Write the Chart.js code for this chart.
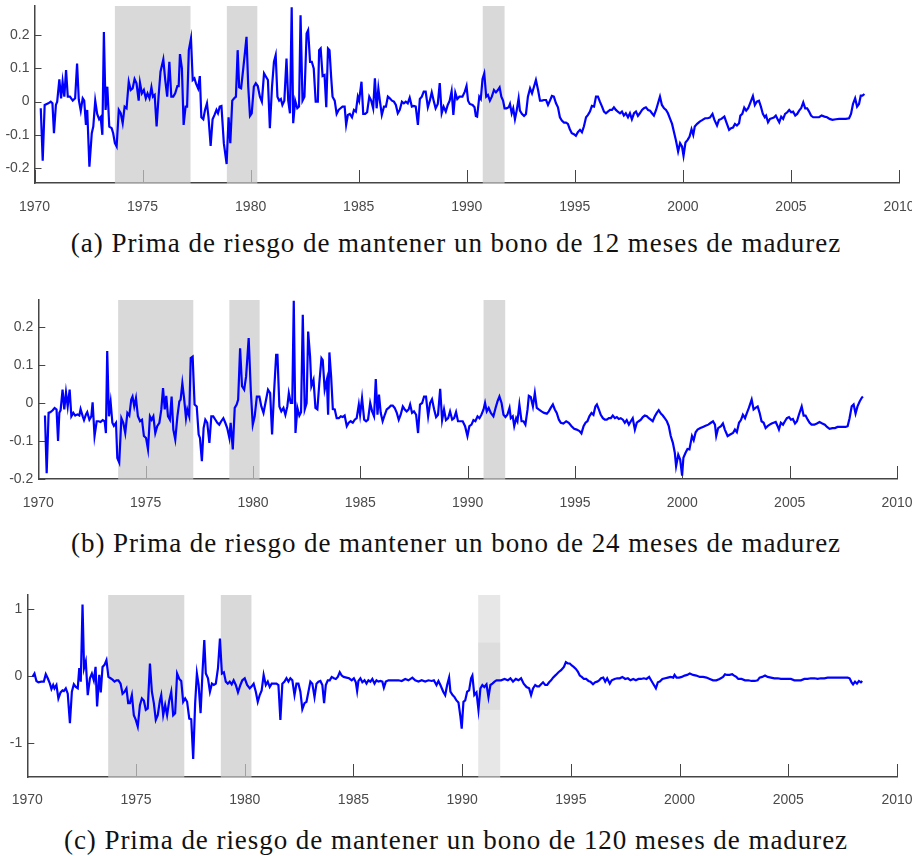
<!DOCTYPE html>
<html>
<head>
<meta charset="utf-8">
<script src="https://cdn.jsdelivr.net/npm/chart.js@4.4.1/dist/chart.umd.min.js"></script>
<style>
  body { margin: 0; background: #fff; width: 912px; height: 856px; position: relative; overflow: hidden; }
  canvas { position: absolute; left: 0; }
  .cap { position: absolute; left: 0; width: 912px; text-align: center; white-space: nowrap;
         font-family: "Liberation Serif", "DejaVu Serif", serif; font-size: 27px; line-height: 30px; color: #111; }
  .cap span { display: inline-block; }
</style>
</head>
<body>
<canvas id="chartA" width="912" height="220" style="top:0px"></canvas>
<div class="cap" style="top:228px"><span data-w="770">(a) Prima de riesgo de mantener un bono de 12 meses de madurez</span></div>
<canvas id="chartB" width="912" height="225" style="top:290px"></canvas>
<div class="cap" style="top:528px"><span data-w="770">(b) Prima de riesgo de mantener un bono de 24 meses de madurez</span></div>
<canvas id="chartC" width="912" height="225" style="top:585px"></canvas>
<div class="cap" style="top:825px"><span data-w="784">(c) Prima de riesgo de mantener un bono de 120 meses de madurez</span></div>
<script>
// años de las marcas del eje x y marcas del eje y
var yearTicks = [1970, 1975, 1980, 1985, 1990, 1995, 2000, 2005, 2010];
var premTicksShort = [-0.2, -0.1, 0, 0.1, 0.2];
var premTicksLong = [-1, 0, 1];

// periodos sombreados (inicio, fin)
var shadedPeriods = [[1973.72, 1977.22], [1978.90, 1980.31], [1990.74, 1991.75]];

// prima de riesgo, bono de 12 meses: [fecha, valor]
var prem12 = [
  [1970.29,-0.02],[1970.38,-0.178],[1970.47,-0.01],[1970.64,-0.005],[1970.75,0.0],[1970.83,-0.005],[1970.90,-0.095],[1970.99,-0.01],
  [1971.05,0.0],[1971.15,0.067],[1971.23,0.01],[1971.30,0.06],[1971.38,0.015],[1971.46,0.095],[1971.54,0.015],[1971.64,0.015],
  [1971.77,0.003],[1971.88,0.01],[1971.97,0.115],[1972.05,0.005],[1972.14,-0.027],[1972.23,0.01],[1972.30,0.003],[1972.38,-0.07],
  [1972.44,-0.025],[1972.54,-0.196],[1972.65,-0.095],[1972.72,-0.075],[1972.81,0.003],[1972.90,-0.037],[1972.99,-0.053],[1973.06,-0.047],
  [1973.14,-0.1],[1973.21,0.21],[1973.29,-0.025],[1973.37,0.045],[1973.46,-0.075],[1973.57,-0.08],[1973.64,-0.095],[1973.72,-0.125],
  [1973.80,-0.135],[1973.90,-0.025],[1973.99,-0.035],[1974.08,-0.065],[1974.17,-0.015],[1974.26,-0.02],[1974.36,0.06],[1974.45,0.035],
  [1974.54,0.04],[1974.63,0.068],[1974.72,0.055],[1974.82,0.003],[1974.88,0.057],[1974.97,0.025],[1975.06,0.035],[1975.15,0.01],
  [1975.23,0.025],[1975.32,0.01],[1975.41,0.043],[1975.48,0.015],[1975.56,0.02],[1975.65,-0.075],[1975.74,0.015],[1975.83,0.09],
  [1975.96,0.127],[1976.05,0.065],[1976.14,0.015],[1976.24,0.12],[1976.33,0.015],[1976.42,0.015],[1976.51,0.025],[1976.61,0.047],
  [1976.67,0.047],[1976.73,0.143],[1976.82,0.1],[1976.90,-0.07],[1976.99,-0.015],[1977.06,-0.015],[1977.14,0.155],[1977.24,0.19],
  [1977.32,0.065],[1977.40,0.07],[1977.47,0.055],[1977.57,0.04],[1977.65,0.077],[1977.72,-0.047],[1977.81,-0.053],[1977.89,-0.025],
  [1977.98,-0.005],[1978.05,-0.047],[1978.15,-0.133],[1978.24,-0.053],[1978.33,-0.04],[1978.42,-0.025],[1978.49,-0.035],[1978.57,-0.015],
  [1978.65,-0.013],[1978.76,-0.125],[1978.89,-0.188],[1978.98,-0.047],[1979.06,-0.125],[1979.15,0.003],[1979.24,0.01],[1979.32,0.015],
  [1979.40,0.155],[1979.47,0.043],[1979.56,0.04],[1979.66,0.1],[1979.74,0.15],[1979.81,0.195],[1979.89,0.045],[1979.97,-0.043],
  [1980.05,-0.035],[1980.15,0.045],[1980.24,0.055],[1980.33,0.047],[1980.43,0.015],[1980.52,0.0],[1980.62,0.085],[1980.71,0.075],
  [1980.80,0.065],[1980.89,-0.08],[1980.99,0.045],[1981.08,0.12],[1981.16,0.14],[1981.24,0.015],[1981.32,0.003],[1981.40,0.008],
  [1981.47,-0.01],[1981.56,0.003],[1981.66,0.13],[1981.74,0.003],[1981.82,-0.035],[1981.90,0.284],[1981.97,-0.065],[1982.06,0.003],
  [1982.16,-0.02],[1982.24,-0.015],[1982.31,0.26],[1982.40,0.003],[1982.49,0.015],[1982.59,0.205],[1982.66,0.215],[1982.75,0.12],
  [1982.83,0.12],[1982.92,0.1],[1983.01,0.0],[1983.11,0.0],[1983.17,0.155],[1983.24,0.16],[1983.33,0.077],[1983.42,0.08],
  [1983.50,-0.017],[1983.58,0.16],[1983.65,0.155],[1983.73,0.07],[1983.79,0.015],[1983.89,0.003],[1983.98,-0.037],[1984.07,-0.025],
  [1984.16,-0.02],[1984.25,-0.015],[1984.35,-0.015],[1984.42,-0.07],[1984.50,-0.04],[1984.59,-0.037],[1984.69,-0.047],[1984.78,-0.025],
  [1984.87,-0.03],[1984.96,0.015],[1985.02,0.003],[1985.13,0.06],[1985.21,-0.037],[1985.30,-0.037],[1985.39,-0.032],[1985.49,0.015],
  [1985.58,0.003],[1985.67,-0.02],[1985.75,0.07],[1985.83,-0.02],[1985.91,0.04],[1985.98,0.003],[1986.07,-0.04],[1986.17,-0.015],
  [1986.26,-0.015],[1986.35,0.015],[1986.44,0.01],[1986.54,0.003],[1986.63,0.0],[1986.72,-0.01],[1986.81,-0.035],[1986.90,-0.025],
  [1987.00,0.0],[1987.09,-0.005],[1987.18,0.0],[1987.27,-0.005],[1987.36,0.012],[1987.46,-0.015],[1987.55,-0.013],[1987.64,-0.015],
  [1987.74,-0.07],[1987.83,0.008],[1987.92,0.015],[1988.01,0.03],[1988.10,0.03],[1988.20,-0.017],[1988.29,0.003],[1988.38,0.028],
  [1988.47,0.003],[1988.56,-0.02],[1988.66,-0.007],[1988.75,0.056],[1988.84,-0.035],[1988.93,-0.015],[1989.03,-0.03],[1989.12,-0.01],
  [1989.21,0.003],[1989.30,0.032],[1989.38,-0.04],[1989.47,0.027],[1989.56,0.008],[1989.66,0.015],[1989.80,0.015],[1989.91,0.03],
  [1989.99,0.047],[1990.06,0.003],[1990.14,-0.007],[1990.27,-0.01],[1990.36,-0.017],[1990.42,-0.043],[1990.48,-0.045],[1990.58,0.015],
  [1990.65,0.008],[1990.73,0.068],[1990.81,0.085],[1990.90,0.015],[1990.98,0.02],[1991.07,0.003],[1991.16,0.015],[1991.26,0.035],
  [1991.35,0.028],[1991.44,0.035],[1991.52,0.043],[1991.60,0.015],[1991.68,0.003],[1991.75,-0.02],[1991.84,-0.02],[1991.94,-0.017],
  [1992.00,-0.007],[1992.08,-0.035],[1992.15,-0.02],[1992.23,-0.053],[1992.31,-0.027],[1992.40,0.01],[1992.46,-0.027],[1992.55,-0.037],
  [1992.65,-0.043],[1992.74,-0.037],[1992.83,0.015],[1992.93,0.04],[1993.02,0.025],[1993.11,0.045],[1993.20,0.065],[1993.30,0.035],
  [1993.39,0.003],[1993.48,0.003],[1993.57,0.005],[1993.67,0.005],[1993.76,-0.01],[1993.85,0.003],[1993.94,0.017],[1994.03,0.015],
  [1994.13,-0.005],[1994.22,-0.017],[1994.31,-0.047],[1994.40,-0.057],[1994.50,-0.063],[1994.59,-0.063],[1994.68,-0.067],[1994.77,-0.083],
  [1994.86,-0.095],[1994.96,-0.098],[1995.05,-0.103],[1995.14,-0.092],[1995.24,-0.085],[1995.33,-0.092],[1995.42,-0.075],[1995.52,-0.047],
  [1995.61,-0.04],[1995.70,-0.03],[1995.79,-0.013],[1995.89,-0.015],[1995.98,0.015],[1996.07,0.015],[1996.16,0.0],[1996.26,-0.015],
  [1996.35,-0.03],[1996.44,-0.035],[1996.53,-0.03],[1996.63,-0.025],[1996.72,-0.025],[1996.81,-0.017],[1996.90,-0.025],[1996.99,-0.03],
  [1997.09,-0.035],[1997.18,-0.03],[1997.27,-0.042],[1997.36,-0.035],[1997.46,-0.047],[1997.55,-0.035],[1997.64,-0.053],[1997.74,-0.035],
  [1997.83,-0.03],[1997.92,-0.043],[1998.01,-0.035],[1998.11,-0.025],[1998.20,-0.02],[1998.29,-0.017],[1998.39,-0.025],[1998.48,-0.027],
  [1998.57,-0.035],[1998.66,-0.042],[1998.76,-0.025],[1998.85,-0.005],[1998.94,0.015],[1999.03,-0.01],[1999.13,-0.02],[1999.22,-0.025],
  [1999.31,-0.035],[1999.41,-0.052],[1999.50,-0.067],[1999.59,-0.092],[1999.68,-0.117],[1999.78,-0.15],[1999.87,-0.125],[1999.96,-0.135],
  [2000.03,-0.163],[2000.12,-0.123],[2000.22,-0.115],[2000.31,-0.105],[2000.40,-0.083],[2000.48,-0.1],[2000.55,-0.075],[2000.66,-0.067],
  [2000.78,-0.06],[2000.91,-0.055],[2001.03,-0.05],[2001.15,-0.05],[2001.25,-0.048],[2001.37,-0.037],[2001.46,-0.055],[2001.58,-0.072],
  [2001.67,-0.055],[2001.78,-0.052],[2001.92,-0.045],[2002.01,-0.062],[2002.14,-0.085],[2002.23,-0.08],[2002.32,-0.078],[2002.41,-0.067],
  [2002.50,-0.072],[2002.60,-0.065],[2002.66,-0.042],[2002.75,-0.037],[2002.84,-0.018],[2002.93,-0.027],[2003.02,-0.02],[2003.11,-0.005],
  [2003.24,0.017],[2003.33,-0.01],[2003.42,0.0],[2003.52,0.003],[2003.61,-0.015],[2003.70,-0.037],[2003.79,-0.047],[2003.85,-0.042],
  [2003.94,-0.062],[2004.03,-0.052],[2004.12,-0.05],[2004.21,-0.048],[2004.30,-0.042],[2004.40,-0.055],[2004.46,-0.062],[2004.55,-0.045],
  [2004.64,-0.052],[2004.73,-0.037],[2004.83,-0.032],[2004.92,-0.025],[2005.01,-0.032],[2005.10,-0.03],[2005.20,-0.042],[2005.29,-0.037],
  [2005.38,-0.027],[2005.47,-0.02],[2005.57,-0.002],[2005.66,-0.02],[2005.75,-0.02],[2005.84,-0.03],[2005.93,-0.042],[2006.03,-0.047],
  [2006.15,-0.047],[2006.30,-0.047],[2006.42,-0.042],[2006.55,-0.045],[2006.67,-0.047],[2006.79,-0.052],[2006.92,-0.055],[2007.08,-0.053],
  [2007.23,-0.052],[2007.38,-0.052],[2007.54,-0.052],[2007.69,-0.05],[2007.78,-0.037],[2007.87,-0.007],[2007.97,0.01],[2008.06,-0.015],
  [2008.15,-0.007],[2008.23,0.018],[2008.31,0.018],[2008.40,0.023]
];

// prima de riesgo, bono de 24 meses
var prem24 = [
  [1970.31,-0.033],[1970.39,-0.185],[1970.48,-0.026],[1970.57,-0.024],[1970.67,-0.019],[1970.76,-0.013],[1970.85,-0.017],[1970.92,-0.1],
  [1970.98,-0.026],[1971.04,-0.019],[1971.13,0.035],[1971.21,-0.017],[1971.29,0.028],[1971.37,-0.009],[1971.46,0.035],[1971.54,-0.035],
  [1971.63,-0.026],[1971.72,-0.033],[1971.82,-0.03],[1971.91,-0.033],[1971.97,-0.016],[1972.07,-0.035],[1972.13,-0.045],[1972.22,-0.03],
  [1972.28,-0.024],[1972.38,-0.044],[1972.47,-0.035],[1972.53,0.002],[1972.62,-0.087],[1972.72,-0.048],[1972.81,-0.048],[1972.90,-0.05],
  [1973.00,-0.045],[1973.09,-0.048],[1973.15,-0.079],[1973.21,0.137],[1973.29,-0.035],[1973.37,0.002],[1973.45,-0.052],[1973.52,-0.06],
  [1973.62,-0.052],[1973.68,-0.145],[1973.77,-0.157],[1973.87,-0.04],[1973.96,-0.052],[1974.05,-0.079],[1974.15,-0.026],[1974.24,-0.033],
  [1974.33,0.009],[1974.39,0.017],[1974.47,-0.009],[1974.55,0.013],[1974.64,-0.035],[1974.74,-0.048],[1974.83,-0.044],[1974.92,-0.087],
  [1975.02,-0.092],[1975.11,-0.122],[1975.20,-0.035],[1975.28,-0.044],[1975.36,-0.035],[1975.45,-0.079],[1975.54,-0.061],[1975.64,-0.052],
  [1975.73,-0.017],[1975.81,0.039],[1975.89,-0.017],[1975.96,0.019],[1976.04,-0.035],[1976.13,-0.044],[1976.21,0.017],[1976.29,-0.07],
  [1976.38,-0.096],[1976.48,-0.035],[1976.57,0.004],[1976.63,0.009],[1976.71,0.052],[1976.79,0.013],[1976.88,-0.04],[1976.94,-0.017],
  [1977.03,-0.035],[1977.10,0.118],[1977.19,0.122],[1977.28,-0.004],[1977.38,-0.009],[1977.47,-0.083],[1977.53,-0.092],[1977.62,-0.153],
  [1977.70,-0.066],[1977.78,-0.044],[1977.87,-0.052],[1977.97,-0.105],[1978.06,-0.035],[1978.15,-0.035],[1978.25,-0.044],[1978.34,-0.052],
  [1978.43,-0.057],[1978.52,-0.048],[1978.62,-0.04],[1978.71,-0.052],[1978.80,-0.066],[1978.90,-0.092],[1978.96,-0.052],[1979.06,-0.122],
  [1979.15,-0.013],[1979.24,-0.004],[1979.31,0.009],[1979.40,0.144],[1979.49,0.044],[1979.59,0.035],[1979.68,0.07],[1979.80,0.171],
  [1979.90,0.031],[1979.99,-0.057],[1980.08,-0.035],[1980.18,0.017],[1980.30,0.017],[1980.39,-0.009],[1980.49,-0.026],[1980.58,0.0],
  [1980.70,0.035],[1980.80,0.026],[1980.89,-0.083],[1980.98,0.026],[1981.08,0.127],[1981.14,0.127],[1981.23,-0.009],[1981.32,-0.022],
  [1981.42,-0.013],[1981.51,-0.031],[1981.60,-0.009],[1981.67,0.026],[1981.76,0.0],[1981.83,0.0],[1981.90,0.269],[1981.98,-0.079],
  [1982.07,-0.013],[1982.16,-0.033],[1982.24,-0.024],[1982.32,0.232],[1982.41,-0.017],[1982.50,0.0],[1982.57,0.188],[1982.66,0.122],
  [1982.72,0.044],[1982.82,0.061],[1982.91,-0.013],[1983.00,-0.017],[1983.09,0.052],[1983.19,0.118],[1983.25,0.113],[1983.34,0.035],
  [1983.44,0.061],[1983.50,-0.031],[1983.56,0.133],[1983.64,0.07],[1983.72,-0.016],[1983.81,-0.017],[1983.90,-0.04],[1984.00,-0.04],
  [1984.09,-0.035],[1984.18,-0.037],[1984.27,-0.033],[1984.37,-0.061],[1984.46,-0.052],[1984.55,-0.048],[1984.65,-0.052],[1984.74,-0.044],
  [1984.83,-0.04],[1984.93,-0.004],[1984.99,-0.031],[1985.08,0.013],[1985.18,-0.044],[1985.27,-0.048],[1985.36,-0.044],[1985.46,0.0],
  [1985.55,-0.022],[1985.64,-0.035],[1985.72,0.063],[1985.80,-0.031],[1985.87,0.022],[1985.95,-0.026],[1986.04,-0.048],[1986.14,-0.031],
  [1986.23,-0.017],[1986.32,-0.013],[1986.42,-0.007],[1986.51,-0.007],[1986.60,-0.013],[1986.70,-0.026],[1986.79,-0.044],[1986.88,-0.031],
  [1986.98,-0.009],[1987.07,-0.017],[1987.16,-0.022],[1987.25,-0.017],[1987.32,-0.004],[1987.41,-0.026],[1987.50,-0.022],[1987.60,-0.031],
  [1987.69,-0.079],[1987.78,-0.004],[1987.88,0.0],[1987.97,0.017],[1988.06,0.017],[1988.16,-0.035],[1988.25,0.0],[1988.34,0.01],
  [1988.44,-0.017],[1988.53,-0.037],[1988.62,-0.031],[1988.72,0.037],[1988.81,-0.045],[1988.90,-0.017],[1988.99,-0.045],[1989.09,-0.04],
  [1989.18,-0.022],[1989.28,-0.044],[1989.37,-0.04],[1989.46,-0.024],[1989.55,-0.048],[1989.65,-0.048],[1989.77,-0.048],[1989.88,-0.061],
  [1989.99,-0.087],[1990.08,-0.061],[1990.18,-0.057],[1990.27,-0.045],[1990.36,-0.048],[1990.46,-0.035],[1990.55,-0.04],[1990.64,-0.031],
  [1990.74,-0.017],[1990.81,0.0],[1990.89,-0.022],[1990.98,-0.013],[1991.08,-0.026],[1991.20,-0.035],[1991.30,-0.013],[1991.39,0.004],
  [1991.48,0.017],[1991.58,0.0],[1991.67,-0.031],[1991.76,-0.037],[1991.85,-0.031],[1991.95,-0.013],[1992.01,-0.04],[1992.10,-0.035],
  [1992.17,-0.061],[1992.26,-0.04],[1992.32,-0.048],[1992.41,-0.004],[1992.51,-0.048],[1992.60,-0.048],[1992.69,-0.057],[1992.79,-0.017],
  [1992.85,0.019],[1992.94,0.016],[1993.04,-0.009],[1993.13,0.026],[1993.22,-0.013],[1993.31,-0.017],[1993.44,-0.022],[1993.56,-0.026],
  [1993.69,-0.028],[1993.78,-0.022],[1993.87,-0.013],[1993.97,-0.004],[1994.06,-0.017],[1994.15,-0.026],[1994.25,-0.044],[1994.34,-0.052],
  [1994.46,-0.054],[1994.59,-0.048],[1994.71,-0.052],[1994.84,-0.061],[1994.96,-0.068],[1995.08,-0.07],[1995.21,-0.074],[1995.30,-0.08],
  [1995.40,-0.061],[1995.49,-0.052],[1995.58,-0.048],[1995.67,-0.035],[1995.77,-0.026],[1995.86,-0.031],[1995.95,-0.009],[1996.02,-0.004],
  [1996.11,-0.017],[1996.20,-0.031],[1996.30,-0.04],[1996.39,-0.044],[1996.48,-0.044],[1996.58,-0.04],[1996.67,-0.04],[1996.76,-0.033],
  [1996.86,-0.04],[1996.95,-0.037],[1997.04,-0.042],[1997.13,-0.04],[1997.23,-0.044],[1997.32,-0.052],[1997.41,-0.045],[1997.51,-0.057],
  [1997.60,-0.048],[1997.69,-0.04],[1997.79,-0.07],[1997.88,-0.052],[1997.97,-0.048],[1998.07,-0.044],[1998.16,-0.037],[1998.25,-0.033],
  [1998.35,-0.035],[1998.44,-0.04],[1998.53,-0.044],[1998.62,-0.048],[1998.72,-0.035],[1998.81,-0.026],[1998.90,-0.019],[1999.00,-0.028],
  [1999.09,-0.033],[1999.18,-0.04],[1999.28,-0.048],[1999.37,-0.061],[1999.46,-0.087],[1999.56,-0.105],[1999.65,-0.131],[1999.71,-0.166],
  [1999.81,-0.136],[1999.90,-0.149],[1999.99,-0.191],[2000.05,-0.144],[2000.15,-0.131],[2000.24,-0.121],[2000.33,-0.122],[2000.45,-0.087],
  [2000.53,-0.098],[2000.62,-0.077],[2000.71,-0.07],[2000.84,-0.066],[2000.96,-0.063],[2001.08,-0.06],[2001.21,-0.057],[2001.33,-0.052],
  [2001.43,-0.048],[2001.52,-0.057],[2001.58,-0.087],[2001.67,-0.066],[2001.80,-0.061],[2001.89,-0.054],[2001.98,-0.07],[2002.11,-0.087],
  [2002.23,-0.083],[2002.36,-0.079],[2002.45,-0.07],[2002.54,-0.077],[2002.64,-0.052],[2002.73,-0.045],[2002.82,-0.031],[2002.92,-0.04],
  [2003.01,-0.026],[2003.10,-0.013],[2003.23,0.009],[2003.32,-0.017],[2003.41,-0.013],[2003.51,-0.009],[2003.60,-0.026],[2003.69,-0.048],
  [2003.79,-0.052],[2003.88,-0.066],[2003.97,-0.061],[2004.07,-0.057],[2004.16,-0.054],[2004.25,-0.052],[2004.35,-0.05],[2004.44,-0.061],
  [2004.50,-0.07],[2004.59,-0.052],[2004.69,-0.057],[2004.78,-0.048],[2004.87,-0.04],[2004.97,-0.037],[2005.06,-0.044],[2005.15,-0.042],
  [2005.25,-0.054],[2005.34,-0.048],[2005.43,-0.031],[2005.56,-0.009],[2005.65,-0.033],[2005.74,-0.033],[2005.84,-0.044],[2005.93,-0.052],
  [2006.02,-0.057],[2006.15,-0.057],[2006.27,-0.054],[2006.39,-0.05],[2006.52,-0.054],[2006.64,-0.057],[2006.74,-0.063],[2006.86,-0.068],
  [2006.99,-0.066],[2007.11,-0.066],[2007.23,-0.063],[2007.36,-0.063],[2007.48,-0.063],[2007.61,-0.063],[2007.70,-0.061],[2007.79,-0.04],
  [2007.89,-0.009],[2007.98,-0.004],[2008.07,-0.028],[2008.16,-0.009],[2008.26,0.004],[2008.35,0.013],[2008.41,0.017]
];

// prima de riesgo, bono de 120 meses
var prem120 = [
  [1970.24,-0.007],[1970.33,0.04],[1970.42,-0.07],[1970.51,-0.09],[1970.64,-0.08],[1970.76,-0.08],[1970.85,0.03],[1970.94,-0.03],
  [1971.04,-0.11],[1971.11,-0.19],[1971.19,-0.13],[1971.25,-0.18],[1971.34,-0.13],[1971.43,-0.33],[1971.53,-0.24],[1971.62,-0.21],
  [1971.68,-0.22],[1971.77,-0.18],[1971.86,-0.26],[1971.96,-0.70],[1972.05,-0.23],[1972.14,-0.12],[1972.23,-0.16],[1972.32,-0.18],
  [1972.39,0.12],[1972.46,-0.08],[1972.54,1.07],[1972.61,0.12],[1972.69,0.22],[1972.78,-0.28],[1972.88,-0.03],[1972.97,0.04],
  [1973.06,-0.06],[1973.14,0.14],[1973.21,-0.45],[1973.31,0.02],[1973.38,-0.24],[1973.46,0.14],[1973.55,0.17],[1973.64,0.24],
  [1973.73,-0.01],[1973.83,-0.03],[1973.92,-0.05],[1974.01,-0.08],[1974.10,-0.06],[1974.19,-0.06],[1974.29,-0.11],[1974.38,-0.26],
  [1974.47,-0.23],[1974.56,-0.18],[1974.64,-0.40],[1974.72,-0.40],[1974.81,-0.28],[1974.90,-0.58],[1974.99,-0.65],[1975.08,-0.75],
  [1975.18,-0.43],[1975.27,-0.33],[1975.36,-0.36],[1975.45,-0.50],[1975.54,-0.48],[1975.64,0.19],[1975.73,-0.23],[1975.82,-0.40],
  [1975.91,-0.65],[1976.00,-0.58],[1976.10,-0.36],[1976.16,-0.28],[1976.25,-0.58],[1976.34,-0.43],[1976.43,-0.58],[1976.53,-0.36],
  [1976.62,-0.23],[1976.71,-0.58],[1976.80,-0.55],[1976.89,0.04],[1976.99,-0.04],[1977.08,-0.07],[1977.17,-0.38],[1977.26,-0.33],
  [1977.35,-0.38],[1977.45,-0.63],[1977.54,-0.64],[1977.63,-1.23],[1977.72,-0.40],[1977.80,0.04],[1977.88,-0.13],[1977.97,-0.55],
  [1978.06,0.07],[1978.14,0.54],[1978.21,0.04],[1978.31,-0.03],[1978.40,-0.23],[1978.49,-0.11],[1978.58,-0.13],[1978.67,-0.11],
  [1978.77,0.12],[1978.86,0.56],[1978.95,0.04],[1979.04,0.06],[1979.13,-0.08],[1979.22,-0.11],[1979.31,-0.08],[1979.40,-0.12],
  [1979.49,-0.06],[1979.59,-0.13],[1979.69,-0.24],[1979.80,-0.13],[1979.89,-0.06],[1980.00,-0.03],[1980.11,-0.13],[1980.23,-0.18],
  [1980.32,-0.15],[1980.41,-0.11],[1980.51,-0.23],[1980.60,-0.38],[1980.69,-0.28],[1980.78,-0.21],[1980.87,0.02],[1980.97,-0.13],
  [1981.06,-0.08],[1981.15,-0.16],[1981.24,-0.11],[1981.35,-0.11],[1981.46,-0.11],[1981.55,-0.13],[1981.64,-0.65],[1981.73,-0.11],
  [1981.83,-0.08],[1981.92,-0.03],[1982.01,-0.08],[1982.10,-0.03],[1982.19,-0.06],[1982.29,-0.28],[1982.38,-0.11],[1982.47,-0.11],
  [1982.56,-0.23],[1982.65,-0.49],[1982.75,-0.40],[1982.84,-0.38],[1982.93,-0.23],[1983.02,-0.08],[1983.11,-0.11],[1983.21,-0.31],
  [1983.30,-0.11],[1983.39,-0.08],[1983.48,-0.07],[1983.57,-0.13],[1983.65,-0.40],[1983.73,-0.13],[1983.82,-0.06],[1983.91,-0.06],
  [1984.00,-0.01],[1984.10,-0.03],[1984.19,-0.04],[1984.28,-0.01],[1984.37,0.06],[1984.46,0.01],[1984.55,-0.01],[1984.68,-0.02],
  [1984.80,-0.03],[1984.92,-0.06],[1985.02,-0.03],[1985.11,-0.09],[1985.17,-0.22],[1985.23,-0.07],[1985.32,-0.03],[1985.41,-0.09],
  [1985.51,-0.06],[1985.60,-0.11],[1985.69,-0.06],[1985.78,-0.08],[1985.87,-0.04],[1985.97,-0.11],[1986.06,-0.06],[1986.15,-0.08],
  [1986.24,-0.07],[1986.33,-0.08],[1986.40,-0.17],[1986.49,-0.08],[1986.61,-0.06],[1986.76,-0.06],[1986.92,-0.06],[1987.07,-0.06],
  [1987.22,-0.07],[1987.38,-0.04],[1987.53,-0.06],[1987.71,-0.02],[1987.84,-0.06],[1987.99,-0.08],[1988.14,-0.06],[1988.30,-0.08],
  [1988.45,-0.06],[1988.60,-0.07],[1988.70,-0.06],[1988.82,-0.13],[1988.91,-0.07],[1989.00,-0.13],[1989.13,-0.23],[1989.22,-0.28],
  [1989.31,-0.13],[1989.40,-0.02],[1989.46,-0.23],[1989.56,-0.28],[1989.65,-0.31],[1989.74,-0.36],[1989.83,-0.39],[1989.92,-0.60],
  [1989.98,-0.78],[1990.06,-0.38],[1990.14,-0.36],[1990.23,-0.23],[1990.32,-0.21],[1990.41,-0.03],[1990.47,0.01],[1990.56,-0.28],
  [1990.66,-0.24],[1990.75,-0.50],[1990.84,-0.18],[1990.93,-0.13],[1991.02,-0.16],[1991.12,-0.12],[1991.21,-0.31],[1991.30,-0.13],
  [1991.39,-0.11],[1991.49,-0.08],[1991.58,-0.06],[1991.67,-0.06],[1991.79,-0.06],[1991.95,-0.04],[1992.10,-0.06],[1992.22,-0.03],
  [1992.34,-0.08],[1992.47,-0.04],[1992.59,-0.06],[1992.71,-0.03],[1992.83,-0.11],[1992.96,-0.16],[1993.08,-0.18],[1993.17,-0.28],
  [1993.26,-0.18],[1993.36,-0.13],[1993.45,-0.15],[1993.54,-0.15],[1993.63,-0.12],[1993.72,-0.09],[1993.82,-0.13],[1993.91,-0.13],
  [1994.00,-0.09],[1994.09,-0.06],[1994.18,-0.02],[1994.31,0.02],[1994.43,0.06],[1994.55,0.09],[1994.68,0.14],[1994.77,0.21],
  [1994.86,0.19],[1994.95,0.19],[1995.04,0.16],[1995.13,0.14],[1995.23,0.11],[1995.32,0.07],[1995.41,0.01],[1995.50,-0.01],
  [1995.60,-0.04],[1995.70,-0.04],[1995.81,-0.07],[1995.90,-0.08],[1996.02,-0.12],[1996.12,-0.09],[1996.21,-0.08],[1996.30,-0.06],
  [1996.39,-0.03],[1996.49,-0.02],[1996.58,-0.08],[1996.67,-0.03],[1996.79,-0.11],[1996.88,-0.06],[1997.01,-0.04],[1997.13,-0.03],
  [1997.25,-0.03],[1997.37,-0.01],[1997.50,-0.04],[1997.62,-0.03],[1997.74,-0.06],[1997.87,-0.04],[1997.99,-0.06],[1998.11,-0.04],
  [1998.23,-0.04],[1998.36,-0.03],[1998.48,-0.04],[1998.60,-0.01],[1998.69,-0.06],[1998.82,-0.13],[1998.91,-0.18],[1999.00,-0.09],
  [1999.09,-0.08],[1999.21,-0.04],[1999.34,-0.03],[1999.46,-0.02],[1999.58,-0.01],[1999.71,-0.02],[1999.77,0.02],[1999.86,-0.02],
  [1999.98,-0.02],[2000.10,-0.01],[2000.23,0.01],[2000.35,0.02],[2000.47,0.04],[2000.62,0.02],[2000.77,0.01],[2000.93,-0.01],
  [2001.08,-0.01],[2001.24,-0.02],[2001.39,-0.04],[2001.54,-0.06],[2001.69,-0.06],[2001.84,-0.04],[2002.00,-0.01],[2002.09,0.03],
  [2002.18,0.02],[2002.30,0.02],[2002.42,0.03],[2002.51,0.01],[2002.61,-0.01],[2002.70,-0.04],[2002.85,-0.04],[2003.01,-0.06],
  [2003.16,-0.06],[2003.31,-0.07],[2003.46,-0.07],[2003.59,-0.06],[2003.68,-0.02],[2003.80,-0.01],[2003.93,0.01],[2004.05,-0.01],
  [2004.20,-0.02],[2004.36,-0.03],[2004.51,-0.03],[2004.66,-0.04],[2004.82,-0.04],[2004.97,-0.04],[2005.12,-0.04],[2005.28,-0.06],
  [2005.43,-0.06],[2005.58,-0.06],[2005.74,-0.04],[2005.89,-0.04],[2006.04,-0.03],[2006.20,-0.03],[2006.35,-0.04],[2006.50,-0.03],
  [2006.66,-0.03],[2006.81,-0.02],[2006.96,-0.02],[2007.12,-0.02],[2007.27,-0.02],[2007.42,-0.02],[2007.58,-0.02],[2007.73,-0.02],
  [2007.82,-0.03],[2007.91,-0.09],[2007.98,-0.12],[2008.07,-0.08],[2008.16,-0.11],[2008.25,-0.07],[2008.34,-0.09],[2008.40,-0.07]
];

// sombreado de periodos y marcas hacia dentro
var shadePlugin = {
  id: 'shade',
  beforeDatasetsDraw: function(chart, args, opts) {
    var ctx = chart.ctx, a = chart.chartArea, x = chart.scales.x, y = chart.scales.y;
    ctx.save();
    ctx.strokeStyle = '#454545';
    ctx.lineWidth = 1;
    x.ticks.forEach(function(t) {
      var px = Math.round(x.getPixelForValue(t.value)) + 0.5;
      ctx.beginPath(); ctx.moveTo(px, a.bottom); ctx.lineTo(px, a.bottom - 13); ctx.stroke();
    });
    y.ticks.forEach(function(t) {
      var py = Math.round(y.getPixelForValue(t.value)) + 0.5;
      ctx.beginPath(); ctx.moveTo(a.left, py); ctx.lineTo(a.left + 7, py); ctx.stroke();
    });
    opts.periods.forEach(function(p, i) {
      var x0 = x.getPixelForValue(p[0]), x1 = x.getPixelForValue(p[1]);
      ctx.fillStyle = (i === opts.lightIndex) ? 'rgba(215,215,215,0.6)' : 'rgba(201,201,201,0.7)';
      ctx.fillRect(x0, a.top, x1 - x0, a.bottom - a.top + 1);
      if (i === opts.lightIndex && opts.band) {
        var y0 = y.getPixelForValue(opts.band[1]), y1 = y.getPixelForValue(opts.band[0]);
        ctx.fillStyle = 'rgba(200,200,200,0.35)';
        ctx.fillRect(x0, y0, x1 - x0, y1 - y0);
      }
    });
    ctx.restore();
  }
};

var tickFont = { family: '"Liberation Sans Narrow", "Arial Narrow", "Liberation Sans", sans-serif', size: 14 };

function drawPanel(id, series, yMin, yMax, yTicks, layout, shadeOpts) {
  return new Chart(document.getElementById(id), {
    type: 'line',
    data: {
      datasets: [{
        data: series.map(function(p) { return { x: p[0], y: p[1] }; }),
        borderColor: '#0000ff',
        borderWidth: 2.2,
        pointRadius: 0,
        tension: 0,
        fill: false
      }]
    },
    options: {
      responsive: false,
      animation: false,
      events: [],
      layout: { padding: { top: layout.top, right: layout.right, left: 0, bottom: 0 } },
      plugins: { legend: { display: false }, tooltip: { enabled: false }, shade: shadeOpts },
      scales: {
        x: {
          type: 'linear', min: 1970, max: 2010,
          grid: { display: false, drawTicks: false },
          border: { display: true, color: '#454545', width: 1.5 },
          afterBuildTicks: function(s) { s.ticks = yearTicks.map(function(v) { return { value: v }; }); },
          afterFit: function(s) { s.height = layout.xh; s.paddingLeft = 0; s.paddingRight = 0; },
          ticks: { font: tickFont, color: '#4a4a4a', padding: layout.xpad, maxRotation: 0, autoSkip: false,
                   callback: function(v) { return String(v); } }
        },
        y: {
          type: 'linear', min: yMin, max: yMax,
          grid: { display: false, drawTicks: false },
          border: { display: true, color: '#454545', width: 1.5 },
          afterBuildTicks: function(s) { s.ticks = yTicks.map(function(v) { return { value: v }; }); },
          afterFit: function(s) { s.width = layout.yw; s.paddingTop = 0; s.paddingBottom = 0; },
          ticks: { font: tickFont, color: '#4a4a4a', padding: 5, autoSkip: false,
                   callback: function(v) { return v === 0 ? '0' : (Math.abs(v) < 1 ? v.toFixed(1) : String(v)); } }
        }
      }
    },
    plugins: [shadePlugin]
  });
}

drawPanel('chartA', prem12, -0.245, 0.288, premTicksShort,
  { top: 6, right: 13, yw: 34.5, xh: 37, xpad: 16 }, { periods: shadedPeriods, lightIndex: -1 });
drawPanel('chartB', prem24, -0.2, 0.271, premTicksShort,
  { top: 10, right: 15, yw: 38.3, xh: 36, xpad: 16 }, { periods: shadedPeriods, lightIndex: -1 });
drawPanel('chartC', prem120, -1.5, 1.21, premTicksLong,
  { top: 10, right: 15, yw: 27.3, xh: 33, xpad: 15 }, { periods: shadedPeriods, lightIndex: 2, band: [-0.5, 0.5] });

// ajustar el ancho de los pies de figura
document.querySelectorAll('.cap span').forEach(function(el) {
  var target = parseFloat(el.getAttribute('data-w'));
  var n = el.textContent.length;
  var w = el.getBoundingClientRect().width;
  el.style.letterSpacing = ((target - w) / n).toFixed(2) + 'px';
});
</script>
</body>
</html>
